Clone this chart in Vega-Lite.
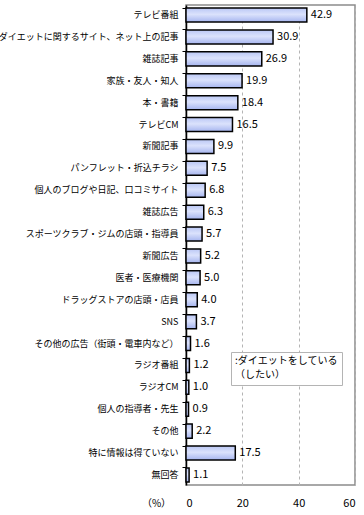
{
  "$schema": "https://vega.github.io/schema/vega-lite/v6.json",
  "width": 169,
  "height": 480,
  "autosize": {"type": "none"},
  "padding": {"left": 186, "top": 5, "right": 9, "bottom": 30},
  "background": "white",
  "config": {
    "view": {"stroke": "#8c8c8c", "strokeWidth": 1.5},
    "font": "Noto Sans CJK JP"
  },
  "data": {
    "values": [
      {"item": "テレビ番組", "value": 42.9},
      {"item": "ダイエットに関するサイト、ネット上の記事", "value": 30.9},
      {"item": "雑誌記事", "value": 26.9},
      {"item": "家族・友人・知人", "value": 19.9},
      {"item": "本・書籍", "value": 18.4},
      {"item": "テレビCM", "value": 16.5},
      {"item": "新聞記事", "value": 9.9},
      {"item": "パンフレット・折込チラシ", "value": 7.5},
      {"item": "個人のブログや日記、口コミサイト", "value": 6.8},
      {"item": "雑誌広告", "value": 6.3},
      {"item": "スポーツクラブ・ジムの店頭・指導員", "value": 5.7},
      {"item": "新聞広告", "value": 5.2},
      {"item": "医者・医療機関", "value": 5.0},
      {"item": "ドラッグストアの店頭・店員", "value": 4.0},
      {"item": "SNS", "value": 3.7},
      {"item": "その他の広告（街頭・電車内など）", "value": 1.6},
      {"item": "ラジオ番組", "value": 1.2},
      {"item": "ラジオCM", "value": 1.0},
      {"item": "個人の指導者・先生", "value": 0.9},
      {"item": "その他", "value": 2.2},
      {"item": "特に情報は得ていない", "value": 17.5},
      {"item": "無回答", "value": 1.1}
    ]
  },
  "encoding": {
    "y": {
      "field": "item",
      "type": "nominal",
      "sort": null,
      "scale": {"paddingInner": 0.36, "paddingOuter": 0.14},
      "axis": {
        "title": null,
        "domainColor": "black",
        "domainWidth": 1.5,
        "tickColor": "black",
        "tickSize": 4,
        "bandPosition": 0,
        "labelFontSize": 9,
        "labelColor": "black",
        "labelPadding": 4,
        "labelLimit": 190
      }
    },
    "x": {
      "field": "value",
      "type": "quantitative",
      "scale": {"domain": [0, 60]},
      "axis": {
        "values": [0, 20, 40, 60],
        "title": "（%）",
        "titleFontSize": 10,
        "titleFontWeight": "normal",
        "titleX": -30,
        "titleY": 18,
        "titleBaseline": "middle",
        "titleAlign": "center",
        "domain": false,
        "ticks": false,
        "labelPadding": 12,
        "labelFontSize": 11,
        "labelColor": "black",
        "grid": true,
        "gridDash": [3, 3],
        "gridColor": "#b4b4b4",
        "gridWidth": 1
      }
    }
  },
  "layer": [
    {
      "mark": {
        "type": "bar",
        "stroke": "black",
        "strokeWidth": 1.5,
        "fill": {
          "gradient": "linear",
          "x1": 0, "y1": 0, "x2": 0, "y2": 1,
          "stops": [
            {"offset": 0, "color": "#bac7f5"},
            {"offset": 0.45, "color": "#dbe2fc"},
            {"offset": 1, "color": "#a6b5ef"}
          ]
        }
      },
      "encoding": {
        "opacity": {
          "datum": "d",
          "scale": {"range": [1]},
          "legend": {
            "orient": "none",
            "legendX": 45,
            "legendY": 347,
            "title": [":ダイエットをしている", "（したい）"],
            "titleFontSize": 10,
            "titleFontWeight": "normal",
            "titleLineHeight": 14,
            "titlePadding": 0,
            "symbolSize": 0,
            "symbolStrokeWidth": 0,
            "symbolOpacity": 0,
            "labelExpr": "''",
            "labelFontSize": 1,
            "labelOpacity": 0,
            "rowPadding": 0,
            "strokeColor": "#b4b4b4",
            "fillColor": "white",
            "padding": 4
          }
        }
      }
    },
    {
      "mark": {"type": "text", "align": "left", "baseline": "middle", "dx": 4, "fontSize": 11, "color": "black"},
      "encoding": {
        "text": {"field": "value", "type": "quantitative", "format": ".1f"}
      }
    }
  ]
}
